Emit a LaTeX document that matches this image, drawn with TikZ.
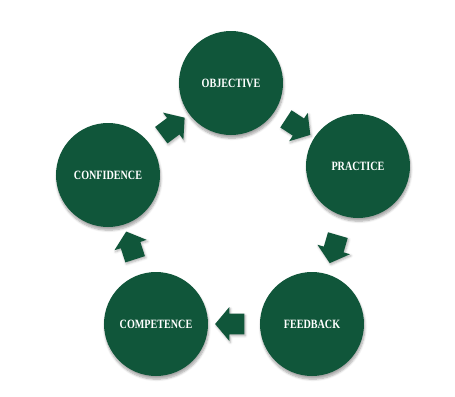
\documentclass[tikz,border=0pt]{standalone}
\usepackage{fontspec}
\newfontfamily\labelfont[FakeStretch=0.8]{Liberation Serif}
\usepackage{tikz}
\usetikzlibrary{shapes.arrows, shadows.blur}
\definecolor{forest}{RGB}{16,86,58}

\begin{document}
\begin{tikzpicture}[
  x=0.75pt, y=-0.75pt,
  font=\labelfont\bfseries\fontsize{9.5}{11}\selectfont,
  stage/.style={circle, fill=forest, minimum size=78pt, inner sep=0pt,
    text=white, blur shadow={shadow xshift=0.6pt, shadow yshift=-2.4pt,
    shadow blur steps=6, shadow opacity=35}},
  flow/.style={single arrow, fill=forest, inner sep=7.5pt,
    minimum height=21pt, single arrow head extend=5pt,
    single arrow tip angle=100, single arrow head indent=0pt,
    sloped, allow upside down, blur shadow={shadow xshift=0.8pt,
    shadow yshift=-1.2pt, shadow blur steps=4, shadow opacity=30}},
]
  \useasboundingbox (0,0) rectangle (455,397);

  \node[stage] (objective)  at (231, 83)  {OBJECTIVE};
  \node[stage] (practice)   at (358,166)  {PRACTICE};
  \node[stage] (feedback)   at (312,324)  {FEEDBACK};
  \node[stage] (competence) at (156,324)  {COMPETENCE};
  \node[stage] (confidence) at (108,175)  {CONFIDENCE};

  % cycle arrows
  \path (objective)  -- node[flow] {} (practice);
  \path (practice)   -- node[flow] {} (feedback);
  \path (feedback)   -- node[flow] {} (competence);
  \path (competence) -- node[flow] {} (confidence);
  \path (confidence) -- node[flow] {} (objective);
\end{tikzpicture}
\end{document}
